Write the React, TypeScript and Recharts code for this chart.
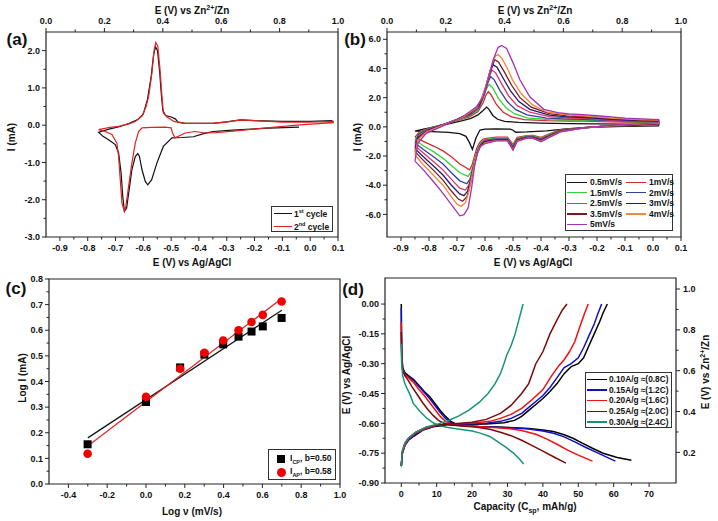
import { ComposedChart, Line, Scatter, XAxis, YAxis, ReferenceArea } from 'recharts';

type P = [number, number];
const pts = (arr: P[]) => arr.map(([x, y]) => ({ x, y }));
const FONT = "'Liberation Sans', Arial, Helvetica, sans-serif";

// ---------- (a) CV, 1st vs 2nd cycle ----------
const cycle1: P[] = [
  [-0.04, -0.05], [-0.15, -0.08], [-0.28, -0.13], [-0.35, -0.17], [-0.38, -0.22], [-0.42, -0.31], [-0.46, -0.33],
  [-0.497, -0.34], [-0.528, -0.57], [-0.551, -1.01], [-0.57, -1.46], [-0.584, -1.6], [-0.593, -1.51], [-0.605, -1.19],
  [-0.614, -0.84], [-0.62, -0.76], [-0.629, -0.84], [-0.641, -1.19], [-0.651, -1.73], [-0.66, -2.22], [-0.668, -2.31],
  [-0.674, -1.91], [-0.68, -1.28], [-0.689, -0.74], [-0.701, -0.52], [-0.725, -0.39], [-0.745, -0.3], [-0.761, -0.19],
  [-0.72, -0.1], [-0.69, -0.05], [-0.65, 0.05], [-0.62, 0.15], [-0.6, 0.3], [-0.585, 0.7], [-0.572, 1.3], [-0.563, 1.9],
  [-0.556, 2.1], [-0.549, 2.0], [-0.541, 1.4], [-0.535, 0.8], [-0.53, 0.4], [-0.52, 0.26], [-0.5, 0.22], [-0.485, 0.17],
  [-0.475, 0.08], [-0.45, 0.05], [-0.35, 0.05], [-0.3, 0.09], [-0.25, 0.14], [-0.2, 0.12], [-0.1, 0.1], [0.0, 0.1], [0.08, 0.12],
];
const cycle2: P[] = [
  [-0.761, -0.12], [-0.72, -0.06], [-0.689, -0.03], [-0.65, 0.04], [-0.629, 0.1], [-0.605, 0.24], [-0.59, 0.5], [-0.581, 0.77],
  [-0.569, 1.4], [-0.561, 2.03], [-0.555, 2.22], [-0.548, 2.12], [-0.54, 1.49], [-0.533, 0.77], [-0.528, 0.33], [-0.515, 0.22],
  [-0.49, 0.1], [-0.45, 0.05], [-0.35, 0.05], [-0.3, 0.09], [-0.25, 0.14], [-0.2, 0.12], [-0.1, 0.08], [0.0, 0.08], [0.083, 0.1],
  [0.083, 0.07], [-0.037, 0.01], [-0.156, -0.07], [-0.276, -0.16], [-0.34, -0.2], [-0.378, -0.21], [-0.414, -0.17], [-0.45, -0.21],
  [-0.486, -0.34], [-0.495, -0.21], [-0.5, -0.07], [-0.522, -0.05], [-0.57, -0.06], [-0.605, -0.07], [-0.617, -0.17], [-0.629, -0.48],
  [-0.641, -1.01], [-0.653, -1.64], [-0.663, -2.18], [-0.668, -2.31], [-0.677, -2.09], [-0.683, -1.46], [-0.689, -0.84],
  [-0.695, -0.48], [-0.713, -0.25], [-0.737, -0.17], [-0.761, -0.12],
];

// ---------- (b) CV at scan rates ----------
const cv05: P[] = [
  [-0.85, -0.3], [-0.82, -0.15], [-0.78, 0.0], [-0.73, 0.2], [-0.68, 0.42], [-0.65, 0.58], [-0.625, 0.82], [-0.607, 1.12], [-0.594, 1.35],
  [-0.585, 1.18], [-0.572, 0.78], [-0.555, 0.52], [-0.53, 0.38], [-0.48, 0.3], [-0.4, 0.25], [-0.3, 0.22], [-0.2, 0.2], [-0.1, 0.18], [0.02, 0.16],
  [0.02, 0.07], [-0.1, 0.03], [-0.2, -0.02], [-0.3, -0.12], [-0.38, -0.27], [-0.45, -0.35], [-0.49, -0.37], [-0.5, -0.23], [-0.51, -0.15],
  [-0.56, -0.14], [-0.6, -0.15], [-0.618, -0.22], [-0.632, -0.75], [-0.645, -1.55], [-0.655, -1.1], [-0.668, -0.65], [-0.69, -0.46],
  [-0.73, -0.38], [-0.79, -0.33], [-0.85, -0.3],
];
const cv1: P[] = [
  [-0.85, -0.7], [-0.835, -0.35], [-0.8, -0.08], [-0.75, 0.15], [-0.7, 0.42], [-0.655, 0.68], [-0.625, 1.05], [-0.607, 1.65], [-0.596, 2.2],
  [-0.588, 2.42], [-0.577, 2.15], [-0.56, 1.55], [-0.535, 1.0], [-0.505, 0.68], [-0.46, 0.5], [-0.38, 0.42], [-0.3, 0.4], [-0.25, 0.4],
  [-0.15, 0.34], [-0.05, 0.3], [0.02, 0.27],
  [0.02, 0.15], [-0.05, 0.1], [-0.15, 0.05], [-0.25, -0.05], [-0.33, -0.2], [-0.37, -0.48], [-0.4, -0.72], [-0.43, -0.58], [-0.45, -0.6],
  [-0.485, -0.72], [-0.5, -1.2], [-0.52, -0.7], [-0.56, -0.7], [-0.6, -0.8], [-0.608, -0.85], [-0.62, -1.1], [-0.63, -1.5], [-0.638, -2.05],
  [-0.646, -2.6], [-0.655, -2.95], [-0.69, -2.55], [-0.72, -2.05], [-0.75, -1.65], [-0.78, -1.35], [-0.82, -1.0], [-0.85, -0.7],
];
const cv15: P[] = [
  [-0.85, -0.9], [-0.835, -0.42], [-0.8, -0.1], [-0.75, 0.15], [-0.7, 0.45], [-0.655, 0.75], [-0.625, 1.15], [-0.607, 1.9], [-0.595, 2.6],
  [-0.585, 2.92], [-0.572, 2.65], [-0.552, 1.95], [-0.525, 1.3], [-0.495, 0.9], [-0.45, 0.62], [-0.37, 0.5], [-0.3, 0.47], [-0.25, 0.47],
  [-0.15, 0.39], [-0.05, 0.34], [0.02, 0.31],
  [0.02, 0.17], [-0.05, 0.12], [-0.15, 0.06], [-0.25, -0.05], [-0.33, -0.23], [-0.37, -0.54], [-0.4, -0.78], [-0.43, -0.63], [-0.45, -0.64],
  [-0.485, -0.78], [-0.5, -1.28], [-0.52, -0.76], [-0.56, -0.76], [-0.6, -0.87], [-0.61, -1.0], [-0.622, -1.35], [-0.632, -1.9], [-0.641, -2.5],
  [-0.65, -3.1], [-0.66, -3.4], [-0.69, -3.15], [-0.72, -2.65], [-0.75, -2.15], [-0.78, -1.75], [-0.82, -1.3], [-0.85, -0.9],
];
const cv2: P[] = [
  [-0.85, -1.1], [-0.837, -0.5], [-0.8, -0.12], [-0.75, 0.15], [-0.7, 0.47], [-0.655, 0.8], [-0.622, 1.3], [-0.603, 2.2], [-0.59, 3.0],
  [-0.58, 3.45], [-0.567, 3.22], [-0.547, 2.5], [-0.52, 1.72], [-0.49, 1.18], [-0.45, 0.82], [-0.38, 0.6], [-0.3, 0.53], [-0.25, 0.52],
  [-0.15, 0.43], [-0.05, 0.37], [0.02, 0.34],
  [0.02, 0.19], [-0.05, 0.13], [-0.15, 0.07], [-0.25, -0.06], [-0.33, -0.25], [-0.37, -0.58], [-0.4, -0.83], [-0.43, -0.67], [-0.45, -0.68],
  [-0.485, -0.83], [-0.5, -1.36], [-0.52, -0.82], [-0.56, -0.82], [-0.6, -0.92], [-0.612, -1.1], [-0.624, -1.5], [-0.634, -2.2], [-0.644, -2.9],
  [-0.654, -3.6], [-0.665, -3.9], [-0.69, -3.7], [-0.72, -3.15], [-0.75, -2.55], [-0.78, -2.1], [-0.82, -1.55], [-0.85, -1.1],
];
const cv25: P[] = [
  [-0.85, -1.3], [-0.837, -0.6], [-0.8, -0.15], [-0.75, 0.15], [-0.7, 0.5], [-0.655, 0.85], [-0.622, 1.4], [-0.602, 2.35], [-0.587, 3.35],
  [-0.575, 3.9], [-0.562, 3.7], [-0.542, 3.0], [-0.515, 2.1], [-0.485, 1.45], [-0.44, 1.0], [-0.37, 0.7], [-0.3, 0.6], [-0.25, 0.58],
  [-0.15, 0.47], [-0.05, 0.4], [0.02, 0.37],
  [0.02, 0.21], [-0.05, 0.14], [-0.15, 0.08], [-0.25, -0.06], [-0.33, -0.27], [-0.37, -0.61], [-0.4, -0.87], [-0.43, -0.7], [-0.45, -0.71],
  [-0.485, -0.87], [-0.5, -1.42], [-0.52, -0.86], [-0.56, -0.86], [-0.6, -0.97], [-0.613, -1.18], [-0.626, -1.7], [-0.637, -2.5], [-0.647, -3.3],
  [-0.658, -4.0], [-0.67, -4.33], [-0.69, -4.2], [-0.72, -3.6], [-0.75, -2.95], [-0.78, -2.45], [-0.82, -1.8], [-0.85, -1.3],
];
const cv3: P[] = [
  [-0.85, -1.5], [-0.838, -0.7], [-0.8, -0.2], [-0.75, 0.15], [-0.7, 0.52], [-0.655, 0.9], [-0.62, 1.5], [-0.6, 2.5], [-0.584, 3.65],
  [-0.571, 4.25], [-0.557, 4.08], [-0.537, 3.4], [-0.51, 2.5], [-0.48, 1.75], [-0.44, 1.2], [-0.37, 0.8], [-0.3, 0.67], [-0.25, 0.65],
  [-0.15, 0.52], [-0.05, 0.43], [0.02, 0.4],
  [0.02, 0.23], [-0.05, 0.15], [-0.15, 0.08], [-0.25, -0.07], [-0.33, -0.29], [-0.37, -0.64], [-0.4, -0.91], [-0.43, -0.73], [-0.45, -0.74],
  [-0.485, -0.91], [-0.5, -1.48], [-0.52, -0.9], [-0.56, -0.9], [-0.6, -1.02], [-0.615, -1.25], [-0.628, -1.8], [-0.64, -2.7], [-0.65, -3.6],
  [-0.662, -4.4], [-0.675, -4.72], [-0.69, -4.6], [-0.72, -4.0], [-0.75, -3.3], [-0.78, -2.75], [-0.82, -2.05], [-0.85, -1.5],
];
const cv35: P[] = [
  [-0.85, -1.7], [-0.838, -0.8], [-0.8, -0.25], [-0.75, 0.12], [-0.7, 0.52], [-0.655, 0.93], [-0.62, 1.55], [-0.6, 2.6], [-0.58, 3.95],
  [-0.565, 4.6], [-0.552, 4.45], [-0.532, 3.8], [-0.505, 2.85], [-0.475, 2.0], [-0.435, 1.35], [-0.37, 0.9], [-0.3, 0.74], [-0.25, 0.71],
  [-0.15, 0.56], [-0.05, 0.46], [0.02, 0.43],
  [0.02, 0.24], [-0.05, 0.16], [-0.15, 0.09], [-0.25, -0.07], [-0.33, -0.31], [-0.37, -0.67], [-0.4, -0.95], [-0.43, -0.75], [-0.45, -0.76],
  [-0.485, -0.94], [-0.5, -1.52], [-0.52, -0.92], [-0.56, -0.92], [-0.6, -1.06], [-0.618, -1.35], [-0.63, -1.95], [-0.642, -2.9], [-0.653, -4.0],
  [-0.665, -4.8], [-0.68, -5.1], [-0.695, -4.95], [-0.72, -4.4], [-0.75, -3.65], [-0.78, -3.05], [-0.82, -2.3], [-0.85, -1.7],
];
const cv4: P[] = [
  [-0.85, -1.95], [-0.84, -0.9], [-0.81, -0.35], [-0.77, -0.03], [-0.73, 0.27], [-0.68, 0.65], [-0.63, 1.3], [-0.605, 2.25], [-0.59, 3.25],
  [-0.575, 4.3], [-0.563, 4.85], [-0.553, 4.95], [-0.54, 4.7], [-0.52, 4.0], [-0.5, 3.15], [-0.47, 2.25], [-0.43, 1.5], [-0.38, 1.02],
  [-0.3, 0.8], [-0.25, 0.76], [-0.15, 0.6], [-0.05, 0.49], [0.02, 0.46],
  [0.02, 0.26], [-0.05, 0.18], [-0.15, 0.09], [-0.25, -0.08], [-0.33, -0.33], [-0.37, -0.69], [-0.4, -0.98], [-0.43, -0.77], [-0.45, -0.77],
  [-0.485, -0.97], [-0.5, -1.56], [-0.52, -0.94], [-0.56, -0.94], [-0.6, -1.1], [-0.62, -1.45], [-0.633, -2.1], [-0.645, -3.2], [-0.657, -4.4],
  [-0.67, -5.2], [-0.685, -5.45], [-0.7, -5.3], [-0.72, -4.8], [-0.75, -4.0], [-0.78, -3.4], [-0.82, -2.6], [-0.85, -1.95],
];
const cv5: P[] = [
  [-0.85, -2.35], [-0.84, -1.13], [-0.81, -0.45], [-0.77, -0.1], [-0.73, 0.24], [-0.68, 0.69], [-0.63, 1.38], [-0.606, 2.06], [-0.589, 3.21],
  [-0.571, 4.58], [-0.553, 5.45], [-0.541, 5.58], [-0.523, 5.38], [-0.499, 4.35], [-0.475, 3.21], [-0.44, 2.06], [-0.39, 1.2], [-0.34, 0.98],
  [-0.3, 0.88], [-0.25, 0.84], [-0.2, 0.76], [-0.1, 0.6], [0.02, 0.5],
  [0.02, 0.28], [-0.05, 0.2], [-0.15, 0.1], [-0.25, -0.08], [-0.33, -0.35], [-0.37, -0.72], [-0.4, -1.02], [-0.43, -0.78], [-0.45, -0.78],
  [-0.485, -1.0], [-0.5, -1.6], [-0.52, -0.96], [-0.56, -0.96], [-0.6, -1.15], [-0.615, -1.3], [-0.627, -1.8], [-0.638, -2.8], [-0.648, -4.2],
  [-0.66, -5.55], [-0.675, -6.02], [-0.69, -6.1], [-0.714, -5.48], [-0.75, -4.56], [-0.78, -3.85], [-0.82, -2.95], [-0.85, -2.35],
];
const scanLabels = ['0.5mV/s', '1mV/s', '1.5mV/s', '2mV/s', '2.5mV/s', '3mV/s', '3.5mV/s', '4mV/s', '5mV/s'];
const scanColors = ['#111111', '#d42a2a', '#35d035', '#34409a', '#e0306e', '#1d1d78', '#7a1a1f', '#f08a3c', '#a232b8'];
const scanData = [cv05, cv1, cv15, cv2, cv25, cv3, cv35, cv4, cv5];

// ---------- (c) log I vs log v ----------
const logV = [-0.301, 0, 0.176, 0.301, 0.398, 0.477, 0.544, 0.602, 0.699];
const logIcp = [0.155, 0.32, 0.455, 0.505, 0.545, 0.575, 0.595, 0.615, 0.648];
const logIap = [0.118, 0.34, 0.45, 0.512, 0.56, 0.6, 0.632, 0.66, 0.712];
const fitCp: P[] = [[-0.3, 0.18], [0.7, 0.678]];
const fitAp: P[] = [[-0.3, 0.148], [0.7, 0.724]];

// ---------- (d) charge / discharge ----------
const dis010: P[] = [
  [0, 0.0], [0.05, -0.15], [0.15, -0.26], [0.4, -0.32], [1, -0.345], [2, -0.36], [3.5, -0.38], [5, -0.41], [6.5, -0.44], [8, -0.465],
  [9.5, -0.5], [11, -0.535], [12.5, -0.565], [14, -0.59], [15.5, -0.604], [18, -0.612], [22, -0.616], [27, -0.618], [32, -0.622],
  [36, -0.626], [40, -0.633], [43, -0.641], [46, -0.657], [48.5, -0.675], [51, -0.698], [54, -0.725], [57, -0.75], [61, -0.772], [65, -0.786],
];
const dis015: P[] = [
  [0, -0.02], [0.05, -0.15], [0.15, -0.27], [0.4, -0.325], [1, -0.35], [2, -0.365], [3.5, -0.385], [5, -0.415], [6.5, -0.445], [8, -0.475],
  [9.5, -0.51], [11, -0.545], [12.5, -0.575], [14, -0.597], [15.5, -0.607], [18, -0.613], [22, -0.617], [27, -0.62], [32, -0.624],
  [36, -0.629], [40, -0.638], [43, -0.65], [46, -0.668], [49, -0.693], [52, -0.72], [55, -0.745], [58, -0.77], [60.5, -0.79],
];
const dis020: P[] = [
  [0, -0.09], [0.05, -0.18], [0.15, -0.28], [0.4, -0.33], [1, -0.355], [2, -0.37], [3.5, -0.395], [5, -0.43], [6.5, -0.46], [8, -0.495],
  [9.5, -0.53], [11, -0.565], [12.5, -0.59], [14, -0.603], [16, -0.61], [20, -0.615], [25, -0.62], [30, -0.626], [34, -0.636], [38, -0.655],
  [41, -0.678], [44, -0.705], [47, -0.735], [50, -0.76], [54, -0.79],
];
const dis025: P[] = [
  [0, -0.14], [0.05, -0.21], [0.15, -0.29], [0.4, -0.335], [1, -0.36], [2, -0.385], [3, -0.415], [4.5, -0.455], [6, -0.495], [7.5, -0.53],
  [9, -0.56], [10.5, -0.585], [12, -0.6], [14, -0.608], [17, -0.613], [21, -0.619], [25, -0.63], [28, -0.645], [31, -0.662], [34, -0.685],
  [37, -0.712], [40, -0.74], [43, -0.768], [46.5, -0.8],
];
const dis030: P[] = [
  [0, -0.2], [0.1, -0.3], [0.4, -0.36], [1, -0.4], [1.5, -0.42], [2.5, -0.457], [3.4, -0.5], [5.3, -0.54], [7.2, -0.574], [9, -0.597],
  [10.5, -0.61], [12.8, -0.62], [15, -0.626], [17.5, -0.632], [20, -0.638], [22.3, -0.649], [25, -0.666], [27, -0.69], [29.5, -0.72],
  [31.7, -0.75], [33.3, -0.778], [34.6, -0.805],
];
const chg010: P[] = [
  [0, -0.815], [0.3, -0.75], [1, -0.71], [2, -0.685], [3.5, -0.665], [6, -0.635], [9, -0.617], [13, -0.607], [18, -0.605], [24, -0.603],
  [29, -0.597], [32, -0.585], [34, -0.565], [36, -0.535], [38, -0.505], [40, -0.475], [42, -0.44], [44, -0.4], [46, -0.35], [48, -0.315],
  [50, -0.3], [51.5, -0.27], [53, -0.21], [54.5, -0.15], [56, -0.09], [57, -0.045], [58.2, 0.0],
];
const chg015: P[] = [
  [0, -0.815], [0.3, -0.75], [1, -0.71], [2, -0.685], [3.5, -0.662], [6, -0.633], [9, -0.615], [13, -0.606], [18, -0.603], [24, -0.6],
  [28, -0.59], [31, -0.575], [34, -0.55], [36, -0.52], [38, -0.49], [40, -0.46], [42, -0.42], [44, -0.37], [46, -0.32], [48, -0.3],
  [50, -0.27], [51.5, -0.22], [53, -0.16], [54.5, -0.1], [55.5, -0.05], [56.6, 0.0],
];
const chg020: P[] = [
  [0, -0.815], [0.3, -0.75], [1, -0.71], [2, -0.68], [4, -0.65], [7, -0.625], [10, -0.61], [15, -0.603], [20, -0.6], [25, -0.59],
  [28, -0.575], [31, -0.555], [34, -0.525], [37, -0.48], [40, -0.43], [42.5, -0.36], [44.5, -0.31], [46, -0.28], [47.5, -0.24],
  [49, -0.19], [50.5, -0.11], [51.7, -0.05], [52.8, 0.0],
];
const chg025: P[] = [
  [0, -0.815], [0.3, -0.74], [1, -0.7], [2, -0.675], [4, -0.645], [7, -0.62], [10, -0.608], [15, -0.602], [20, -0.595], [24, -0.58],
  [28, -0.55], [31, -0.51], [34, -0.45], [36, -0.4], [38, -0.3], [40, -0.24], [42, -0.15], [44, -0.08], [45.5, -0.03], [46.8, 0.0],
];
const chg030: P[] = [
  [0, -0.815], [0.3, -0.74], [1, -0.7], [2, -0.675], [4, -0.645], [7, -0.62], [10, -0.605], [13, -0.588], [16, -0.565], [19, -0.535],
  [22, -0.495], [24.5, -0.45], [26.5, -0.4], [28, -0.35], [29, -0.3], [29.8, -0.256], [31, -0.21], [32, -0.16], [33.1, -0.087], [34.4, 0.0],
];
const rateLabels = ['0.10A/g \u2248(0.8C)', '0.15A/g \u2248(1.2C)', '0.20A/g \u2248(1.6C)', '0.25A/g \u2248(2.0C)', '0.30A/g \u2248(2.4C)'];
const rateColors = ['#000000', '#1010c8', '#f01010', '#7a0a0a', '#17937a'];
const rateDis = [dis010, dis015, dis020, dis025, dis030];
const rateChg = [chg010, chg015, chg020, chg025, chg030];

// ---------- ticks ----------
const cvXMajor = [-0.9, -0.8, -0.7, -0.6, -0.5, -0.4, -0.3, -0.2, -0.1, 0, 0.1];
const topMajor = [0, 0.2, 0.4, 0.6, 0.8, 1.0];
const aYMajor = [-3, -2, -1, 0, 1, 2];
const bYMajor = [-6, -4, -2, 0, 2, 4, 6];
const cXMajor = [-0.4, -0.2, 0, 0.2, 0.4, 0.6, 0.8, 1.0];
const cYMajor = [0, 0.1, 0.2, 0.3, 0.4, 0.5, 0.6, 0.7, 0.8];
const dXMajor = [0, 10, 20, 30, 40, 50, 60, 70];
const dYMajor = [-0.9, -0.75, -0.6, -0.45, -0.3, -0.15, 0];
const dRMajor = [0.2, 0.4, 0.6, 0.8, 1.0];
// the top (Zn2+/Zn) scale spans the plot; two points just to give that axis a series
const topSpan: P[] = [[0, 0], [1, 0]];

const withMinor = (m: number[]) => [...m, ...m.slice(1).map((v, i) => (v + m[i]) / 2)];

type Side = 'top' | 'bottom' | 'left' | 'right';
const mkTick = (side: Side, majors: number[], fmt: (v: number) => string) => (props: any) => {
  const { x, y, payload } = props;
  const v = payload.value as number;
  const major = majors.some((m) => Math.abs(m - v) < 1e-6);
  const len = major ? 4 : 2.5;
  const t = { fontFamily: FONT, fontWeight: 700, fontSize: 9, fill: '#111' };
  const k = `${side}${v}`;
  if (side === 'bottom')
    return (
      <g key={k}>
        <line x1={x} x2={x} y1={y} y2={y + len} stroke="#222" />
        {major && <text x={x} y={y + 14} textAnchor="middle" {...t}>{fmt(v)}</text>}
      </g>
    );
  if (side === 'top')
    return (
      <g key={k}>
        <line x1={x} x2={x} y1={y} y2={y - len} stroke="#222" />
        {major && <text x={x} y={y - 8} textAnchor="middle" {...t}>{fmt(v)}</text>}
      </g>
    );
  if (side === 'left')
    return (
      <g key={k}>
        <line x1={x} x2={x - len} y1={y} y2={y} stroke="#222" />
        {major && <text x={x - 6} y={y + 3.2} textAnchor="end" {...t}>{fmt(v)}</text>}
      </g>
    );
  return (
    <g key={k}>
      <line x1={x} x2={x + len} y1={y} y2={y} stroke="#222" />
      {major && <text x={x + 7} y={y + 3.2} textAnchor="start" {...t}>{fmt(v)}</text>}
    </g>
  );
};
const f1 = (v: number) => v.toFixed(1);
const f2 = (v: number) => v.toFixed(2);
const f0 = (v: number) => v.toFixed(0);

const axisCommon = { type: 'number' as const, allowDataOverflow: true, interval: 0 as const, tickSize: 0, tickMargin: 0, axisLine: false, tickLine: false };

// ---------- text helpers ----------
const T = (p: { x: number; y: number; size?: number; rot?: boolean; children: any }) => (
  <div
    style={{
      position: 'absolute', left: p.x, top: p.y, transform: `translate(-50%, -50%)${p.rot ? ' rotate(-90deg)' : ''}`,
      fontFamily: FONT, fontWeight: 700, fontSize: p.size ?? 10, color: '#111', whiteSpace: 'nowrap', lineHeight: 1,
    }}
  >
    {p.children}
  </div>
);
const ZnTitle = () => (<>E (V) vs Zn<sup style={{ fontSize: '0.7em' }}>2+</sup>/Zn</>);

function CVPanelA() {
  return (
    <div style={{ position: 'absolute', left: 1, top: 2 }}>
      <ComposedChart width={352} height={265} margin={{ top: 0, right: 15, bottom: 0, left: 0 }}>
        <XAxis xAxisId="b" dataKey="x" {...axisCommon} domain={[-0.95, 0.1]} ticks={withMinor(cvXMajor)} height={30} tick={mkTick('bottom', cvXMajor, f1)} />
        <XAxis xAxisId="t" dataKey="x" orientation="top" {...axisCommon} domain={[0, 1]} ticks={withMinor(topMajor)} height={30} tick={mkTick('top', topMajor, f1)} />
        <YAxis yAxisId="l" dataKey="y" {...axisCommon} domain={[-3, 2.5]} ticks={withMinor(aYMajor)} width={45} tick={mkTick('left', aYMajor, f1)} />
        <ReferenceArea xAxisId="b" yAxisId="l" x1={-0.95} x2={0.1} y1={-3} y2={2.5} fill="none" stroke="#222" strokeWidth={1.2} ifOverflow="visible" />
        <Line xAxisId="t" yAxisId="l" data={pts(topSpan)} dataKey="y" stroke="none" dot={false} activeDot={false} isAnimationActive={false} />
        <Line xAxisId="b" yAxisId="l" data={pts(cycle1)} dataKey="y" type="linear" stroke="#111" strokeWidth={1.2} dot={false} activeDot={false} isAnimationActive={false} />
        <Line xAxisId="b" yAxisId="l" data={pts(cycle2)} dataKey="y" type="linear" stroke="#e02222" strokeWidth={1.2} dot={false} activeDot={false} isAnimationActive={false} />
      </ComposedChart>
    </div>
  );
}

function CVPanelB() {
  return (
    <div style={{ position: 'absolute', left: 342, top: 2 }}>
      <ComposedChart width={354} height={265} margin={{ top: 0, right: 15, bottom: 0, left: 0 }}>
        <XAxis xAxisId="b" dataKey="x" {...axisCommon} domain={[-0.95, 0.1]} ticks={withMinor(cvXMajor)} height={30} tick={mkTick('bottom', cvXMajor, f1)} />
        <XAxis xAxisId="t" dataKey="x" orientation="top" {...axisCommon} domain={[0, 1]} ticks={withMinor(topMajor)} height={30} tick={mkTick('top', topMajor, f1)} />
        <YAxis yAxisId="l" dataKey="y" {...axisCommon} domain={[-7.55, 6.5]} ticks={withMinor(bYMajor)} width={45} tick={mkTick('left', bYMajor, f1)} />
        <ReferenceArea xAxisId="b" yAxisId="l" x1={-0.95} x2={0.1} y1={-7.55} y2={6.5} fill="none" stroke="#222" strokeWidth={1.2} ifOverflow="visible" />
        <Line xAxisId="t" yAxisId="l" data={pts(topSpan)} dataKey="y" stroke="none" dot={false} activeDot={false} isAnimationActive={false} />
        {scanData.map((d, i) => (
          <Line key={scanLabels[i]} xAxisId="b" yAxisId="l" data={pts(d)} dataKey="y" type="linear" stroke={scanColors[i]} strokeWidth={1.3} dot={false} activeDot={false} isAnimationActive={false} />
        ))}
      </ComposedChart>
    </div>
  );
}

const Square = (p: any) => <rect x={p.cx - 4} y={p.cy - 4} width={8} height={8} fill="#000" />;
const Dot = (p: any) => <circle cx={p.cx} cy={p.cy} r={4.3} fill="#f00000" />;

function PanelC() {
  const cp = logV.map((x, i) => ({ x, y: logIcp[i] }));
  const ap = logV.map((x, i) => ({ x, y: logIap[i] }));
  return (
    <div style={{ position: 'absolute', left: 4, top: 249 }}>
      <ComposedChart width={351} height={265} margin={{ top: 30, right: 15, bottom: 0, left: 0 }}>
        <XAxis xAxisId="b" dataKey="x" {...axisCommon} domain={[-0.5, 1.0]} ticks={withMinor(cXMajor)} height={30} tick={mkTick('bottom', cXMajor, f1)} />
        <YAxis yAxisId="l" dataKey="y" {...axisCommon} domain={[0, 0.8]} ticks={withMinor(cYMajor)} width={45} tick={mkTick('left', cYMajor, f1)} />
        <ReferenceArea xAxisId="b" yAxisId="l" x1={-0.5} x2={1.0} y1={0} y2={0.8} fill="none" stroke="#222" strokeWidth={1.2} ifOverflow="visible" />
        <Line xAxisId="b" yAxisId="l" data={pts(fitCp)} dataKey="y" type="linear" stroke="#111" strokeWidth={1.2} dot={false} activeDot={false} isAnimationActive={false} />
        <Line xAxisId="b" yAxisId="l" data={pts(fitAp)} dataKey="y" type="linear" stroke="#e02020" strokeWidth={1.2} dot={false} activeDot={false} isAnimationActive={false} />
        <Scatter xAxisId="b" yAxisId="l" data={cp} dataKey="y" shape={Square} isAnimationActive={false} />
        <Scatter xAxisId="b" yAxisId="l" data={ap} dataKey="y" shape={Dot} isAnimationActive={false} />
      </ComposedChart>
    </div>
  );
}

function PanelD() {
  return (
    <div style={{ position: 'absolute', left: 340, top: 248 }}>
      <ComposedChart width={371} height={265} margin={{ top: 30, right: 0, bottom: 0, left: 0 }}>
        <XAxis xAxisId="b" dataKey="x" {...axisCommon} domain={[-4.6, 77.6]} ticks={withMinor(dXMajor)} height={30} tick={mkTick('bottom', dXMajor, f0)} />
        <YAxis yAxisId="l" dataKey="y" {...axisCommon} domain={[-0.9, 0.131]} ticks={withMinor(dYMajor)} width={45} tick={mkTick('left', dYMajor, f2)} />
        <YAxis yAxisId="r" orientation="right" {...axisCommon} domain={[0.05, 1.054]} ticks={withMinor(dRMajor)} width={35} tick={mkTick('right', dRMajor, f1)} />
        <ReferenceArea xAxisId="b" yAxisId="l" x1={-4.6} x2={77.6} y1={-0.9} y2={0.131} fill="none" stroke="#222" strokeWidth={1.2} ifOverflow="visible" />
        {rateDis.map((d, i) => (
          <Line key={`d${i}`} xAxisId="b" yAxisId="l" data={pts(d)} dataKey="y" type="linear" stroke={rateColors[i]} strokeWidth={1.5} dot={false} activeDot={false} isAnimationActive={false} />
        ))}
        {rateChg.map((d, i) => (
          <Line key={`c${i}`} xAxisId="b" yAxisId="l" data={pts(d)} dataKey="y" type="linear" stroke={rateColors[i]} strokeWidth={1.5} dot={false} activeDot={false} isAnimationActive={false} />
        ))}
      </ComposedChart>
    </div>
  );
}

const legendBox = (l: number, t: number, w: number, h: number): any => ({
  position: 'absolute', left: l, top: t, width: w, height: h, border: '1px solid #333', background: '#fff', boxSizing: 'border-box',
});
const legText: any = { position: 'absolute', fontFamily: FONT, fontWeight: 700, color: '#111', whiteSpace: 'nowrap', lineHeight: 1 };

export default function App() {
  return (
    <div style={{ position: 'absolute', left: 0, top: 0, width: 718, height: 521, background: '#fff', overflow: 'hidden' }}>
      <CVPanelA />
      <CVPanelB />
      <PanelC />
      <PanelD />

      {/* titles */}
      <T x={192} y={10}><ZnTitle /></T>
      <T x={192} y={263}>E (V) vs Ag/AgCl</T>
      <T x={12} y={137} rot>I (mA)</T>
      <T x={535} y={10}><ZnTitle /></T>
      <T x={533} y={263}>E (V) vs Ag/AgCl</T>
      <T x={358} y={137} rot>I (mA)</T>
      <T x={192} y={512}>Log &nu; (mV/s)</T>
      <T x={23} y={378} rot>Log I (mA)</T>
      <T x={525} y={508}>Capacity (C<sub style={{ fontSize: '0.7em' }}>sp</sub>, mAh/g)</T>
      <T x={347} y={375} rot>E (V) vs Ag/AgCl</T>
      <T x={705} y={372} rot><ZnTitle /></T>

      <T x={17} y={39} size={17}>(a)</T>
      <T x={355} y={39} size={17}>(b)</T>
      <T x={16} y={288} size={17}>(c)</T>
      <T x={353} y={289} size={17}>(d)</T>

      {/* legend a */}
      <div style={legendBox(271, 206, 62, 26)}>
        <div style={{ position: 'absolute', left: 2, top: 6, width: 18, height: 1.3, background: '#111' }} />
        <div style={{ ...legText, left: 22, top: 2, fontSize: 8.5 }}>1<sup style={{ fontSize: '0.65em' }}>st</sup> cycle</div>
        <div style={{ position: 'absolute', left: 2, top: 19, width: 18, height: 1.3, background: '#e02222' }} />
        <div style={{ ...legText, left: 22, top: 15, fontSize: 8.5 }}>2<sup style={{ fontSize: '0.65em' }}>nd</sup> cycle</div>
      </div>

      {/* legend b */}
      <div style={legendBox(565, 174, 108, 57)}>
        {scanLabels.map((s, i) => {
          const col = i % 2;
          const row = Math.floor(i / 2);
          const lx = col === 0 ? 1 : 60;
          const ty = 3 + row * 10.6;
          return (
            <div key={s}>
              <div style={{ position: 'absolute', left: lx, top: ty + 3.5, width: 20, height: 1.4, background: scanColors[i] }} />
              <div style={{ ...legText, left: lx + 23, top: ty, fontSize: 8.5 }}>{s}</div>
            </div>
          );
        })}
      </div>

      {/* legend c */}
      <div style={legendBox(268, 449, 68, 31)}>
        <div style={{ position: 'absolute', left: 8, top: 5, width: 8, height: 8, background: '#000' }} />
        <div style={{ ...legText, left: 21, top: 4, fontSize: 8.5 }}>I<sub style={{ fontSize: '0.65em' }}>CP</sub>, b=0.50</div>
        <div style={{ position: 'absolute', left: 8, top: 18, width: 9, height: 9, borderRadius: 5, background: '#f00000' }} />
        <div style={{ ...legText, left: 21, top: 17, fontSize: 8.5 }}>I<sub style={{ fontSize: '0.65em' }}>AP</sub>, b=0.58</div>
      </div>

      {/* legend d */}
      <div style={legendBox(585, 372, 87, 56)}>
        {rateLabels.map((s, i) => (
          <div key={s}>
            <div style={{ position: 'absolute', left: 1, top: 5.5 + i * 10.7, width: 20, height: 1.5, background: rateColors[i] }} />
            <div style={{ ...legText, left: 23, top: 2 + i * 10.7, fontSize: 8.3 }}>{s}</div>
          </div>
        ))}
      </div>
    </div>
  );
}
